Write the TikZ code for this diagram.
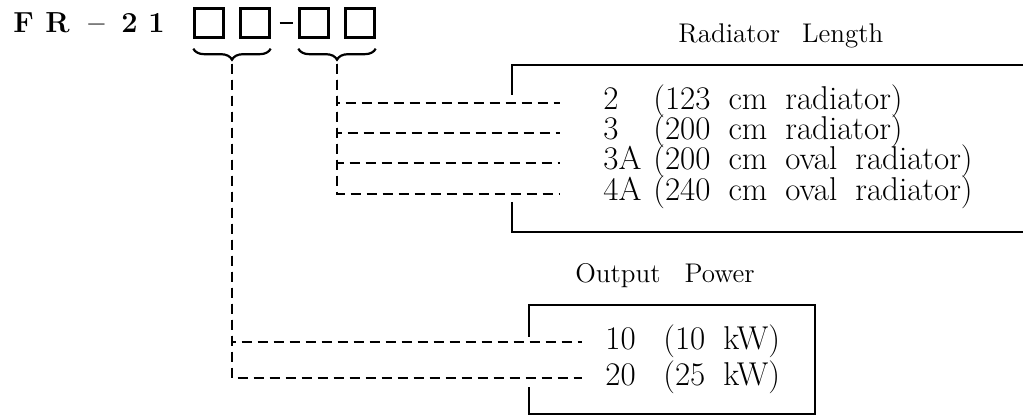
\documentclass[tikz,border=0pt]{standalone}
\usepackage{tikz}
\usetikzlibrary{decorations.pathreplacing,calc,positioning}

\newcommand{\wordgap}{\spaceskip=9pt\relax}

\tikzset{
  slot/.style={draw,line width=1.2pt,minimum size=14.5pt,inner sep=0pt},
  lead/.style={line width=0.75pt,dash pattern=on 5pt off 3pt},
  frame/.style={line width=1pt},
  hdtext/.style={font=\fontsize{14.5}{16}\selectfont\bfseries,anchor=base west,inner sep=0pt},
  code/.style={font=\fontsize{16.5}{18}\selectfont,anchor=base west,inner sep=0pt},
  title/.style={font=\fontsize{13.5}{16}\selectfont,anchor=base west,inner sep=0pt},
  ubrace/.style={decorate,decoration={brace,mirror,amplitude=5.5pt},line width=1.1pt}
}

\begin{document}
\begin{tikzpicture}[x=0.5pt,y=-0.5pt]
  \useasboundingbox (0,0) rectangle (1023,416);

  % model number
  \foreach \c/\x [count=\i] in {F/13, R/45, --/88, 2/121, 1/148}
    \node[hdtext] (hd\i) at (\x,33) {\c};
  \node[slot] (b1) at (209,23) {};
  \node[slot] (b2) at (255,23) {};
  \node[slot] (b3) at (314,23) {};
  \node[slot] (b4) at (360,23) {};
  \draw[line width=1pt,shorten <=4.5pt,shorten >=2.5pt] (b2.east) -- (b3.west);

  % braces under the slots
  \draw[ubrace] ($(b1.south west)+(0,10)$) -- ($(b2.south east)+(0,10)$);
  \draw[ubrace] ($(b3.south west)+(0,10)$) -- ($(b4.south east)+(0,10)$);
  \coordinate (tipP) at ($(b1.south west)!0.5!(b2.south east)+(0,25)$);
  \coordinate (tipR) at ($(b3.south west)!0.5!(b4.south east)+(0,25)$);

  % Radiator length
  \node[title] (radtitle) at (678,43) {Radiator\hspace{11pt}Length};
  \draw[frame] (1023,65) -- (512,65) -- (512,95);
  \draw[frame] (512,202) -- (512,232) -- (1023,232);
  \foreach \k/\txt/\y [count=\i] in {2/{(123 cm radiator)}/110, 3/{(200 cm radiator)}/140,
      3A/{(200 cm oval radiator)}/170, 4A/{(240 cm oval radiator)}/201} {
    \node[code] (rc\i) at (603,\y) {\k};
    \node[code] (rd\i) at (653,\y) {\wordgap\txt};
    \coordinate (re\i) at ($(rc\i.base west)+(-43,-7)$);
    \draw[lead] (tipR) |- (re\i);
  }

  % Output power
  \node[title] (powtitle) at (575,283) {Output\hspace{12pt}Power};
  \draw[frame] (529,337) -- (529,305) -- (815,305) -- (815,414) -- (529,414) -- (529,387);
  \foreach \k/\txt/\y [count=\i] in {10/{(10 kW)}/350, 20/{(25 kW)}/386} {
    \node[code] (pc\i) at (605,\y) {\k};
    \node[code] (pd\i) at (663,\y) {\wordgap\txt};
    \coordinate (pe\i) at ($(pc\i.base west)+(-23,-8)$);
    \draw[lead] (tipP) |- (pe\i);
  }
\end{tikzpicture}
\end{document}
